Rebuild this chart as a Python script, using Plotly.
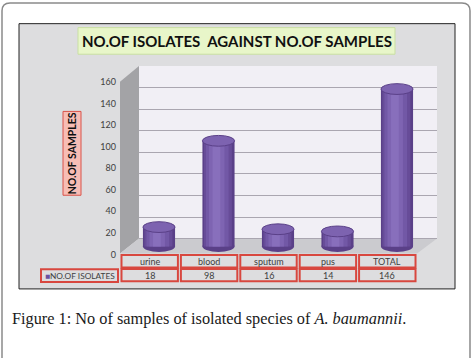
import plotly.graph_objects as go

# ---------------- data ----------------
categories = ["urine", "blood", "sputum", "pus", "TOTAL"]
isolates = [18, 98, 16, 14, 146]
series_name = "NO.OF ISOLATES"
y_ticks = [0, 20, 40, 60, 80, 100, 120, 140, 160]
title_text = "NO.OF ISOLATES \u00a0AGAINST NO.OF SAMPLES"
y_title = "NO.OF SAMPLES"
caption = "Figure 1: No of samples of isolated species of <i>A. baumannii</i>."

# ---------------- helpers ----------------
W, H = 472, 358
def fx(p): return p / W
def fy(p): return 1 - p / H

fig = go.Figure()

# dummy trace so the main subplot (x, y) exists
fig.add_trace(go.Scatter(x=[0.5], y=[50], xaxis="x", yaxis="y", mode="markers",
                         marker=dict(opacity=0), showlegend=False, hoverinfo="skip"))

# cylinder shading: overlaid bars of decreasing width
layers = [(0.54, "#5a4088", 0.0), (0.47, "#674c98", -0.01), (0.38, "#7258a6", -0.02),
          (0.26, "#7e64b2", -0.03), (0.13, "#886fbc", -0.035)]
for w, c, sh in layers:
    fig.add_trace(go.Bar(
        x=categories, y=isolates, xaxis="x2", yaxis="y2",
        width=w, offset=-w / 2 + sh, marker=dict(color=c, line=dict(width=0)),
        showlegend=False, hoverinfo="skip", name=series_name))

# dummy traces so helper axes exist
fig.add_trace(go.Scatter(x=[0.5], y=[50], xaxis="x", yaxis="y3", mode="markers",
                         marker=dict(opacity=0), showlegend=False, hoverinfo="skip"))
fig.add_trace(go.Scatter(x=[0], y=[0.5], xaxis="x3", yaxis="y4", mode="markers",
                         marker=dict(opacity=0), showlegend=False, hoverinfo="skip"))

shapes = []
def pt(x, y): return f"{fx(x):.5f},{fy(y):.5f}"
# outer rounded frame
shapes.append(dict(type="path", xref="paper", yref="paper", layer="below",
                   path=f"M {pt(10,3)} L {pt(462,3)} Q {pt(470,3)} {pt(470,11)} L {pt(470,380)} "
                        f"L {pt(2,380)} L {pt(2,11)} Q {pt(2,3)} {pt(10,3)} Z",
                   line=dict(color="#8a8a8a", width=1.5), fillcolor="white"))
# chart area
shapes.append(dict(type="rect", xref="paper", yref="paper", layer="below",
                   x0=fx(19), x1=fx(455), y0=fy(293), y1=fy(24),
                   fillcolor="#dddddf", line=dict(color="#222222", width=1)))
# back wall
shapes.append(dict(type="rect", xref="paper", yref="paper", layer="below",
                   x0=fx(139), x1=fx(437), y0=fy(242), y1=fy(67),
                   fillcolor="#f1eff5", line=dict(width=0)))
# left wall
shapes.append(dict(type="path", xref="paper", yref="paper", layer="below",
                   path=f"M {pt(120,83)} L {pt(139,67)} L {pt(139,242)} L {pt(120,257)} Z",
                   fillcolor="#a3a3a6", line=dict(width=0)))
# floor
shapes.append(dict(type="path", xref="paper", yref="paper", layer="below",
                   path=f"M {pt(120,257)} L {pt(139,242)} L {pt(437,242)} L {pt(417,257)} Z",
                   fillcolor="#cbcbcf", line=dict(width=0)))
# title box
shapes.append(dict(type="rect", xref="paper", yref="paper", layer="below",
                   x0=fx(78), x1=fx(395), y0=fy(55), y1=fy(28),
                   fillcolor="#e8f6c9", line=dict(color="#c9dfa3", width=1)))
# y title box
shapes.append(dict(type="rect", xref="paper", yref="paper", layer="below",
                   x0=fx(63), x1=fx(81), y0=fy(198), y1=fy(113),
                   fillcolor="#f7bdb5", line=dict(color="#d9534a", width=1)))

# cylinder ends
for i, v in enumerate(isolates):
    shapes.append(dict(type="circle", xref="x2", yref="y2", layer="below",
                       x0=i - 0.27, x1=i + 0.27, y0=-5, y1=5,
                       fillcolor="#5a4088", line=dict(width=0)))
    shapes.append(dict(type="circle", xref="x2", yref="y2", layer="above",
                       x0=i - 0.27, x1=i + 0.27, y0=v - 5, y1=v + 5,
                       fillcolor="#7d63b0", line=dict(color="#5a4088", width=1)))

# data table cells
red = "#d8473f"
for r in range(2):
    for i in range(len(categories)):
        shapes.append(dict(type="rect", xref="x3", yref="y4", layer="above",
                           x0=i - 0.475, x1=i + 0.475, y0=r + 0.05, y1=r + 0.95,
                           line=dict(color=red, width=2), fillcolor="rgba(0,0,0,0)"))
shapes.append(dict(type="rect", xref="paper", yref="paper", layer="above",
                   x0=fx(41), x1=fx(118), y0=fy(286), y1=fy(273),
                   line=dict(color=red, width=2), fillcolor="rgba(0,0,0,0)"))

annotations = []
annotations.append(dict(xref="paper", yref="paper", x=fx(236.5), y=fy(41.5),
                        xanchor="center", yanchor="middle",
                        text=f"<b>{title_text}</b>", showarrow=False,
                        font=dict(family="Lato", size=15, color="#111111")))
annotations.append(dict(xref="paper", yref="paper", x=fx(72), y=fy(155.5),
                        xanchor="center", yanchor="middle",
                        text=f"<b>{y_title}</b>", textangle=-90, showarrow=False,
                        font=dict(family="Lato", size=10.5, color="#111111")))
for i, (c, v) in enumerate(zip(categories, isolates)):
    annotations.append(dict(xref="x3", yref="y4", x=i, y=0.5, text=c, showarrow=False,
                            xanchor="center", yanchor="middle",
                            font=dict(family="Lato", size=9, color="#404040")))
    annotations.append(dict(xref="x3", yref="y4", x=i, y=1.5, text=str(v), showarrow=False,
                            xanchor="center", yanchor="middle",
                            font=dict(family="Lato", size=9, color="#404040")))
annotations.append(dict(xref="paper", yref="paper", x=fx(43), y=fy(279.5),
                        xanchor="left", yanchor="middle",
                        text=f"<span style='color:#6a50a0'>\u25a0</span>{series_name}",
                        showarrow=False, font=dict(family="Lato", size=8.3, color="#404040")))
annotations.append(dict(xref="paper", yref="paper", x=fx(10), y=fy(323),
                        xanchor="left", yanchor="middle",
                        text=caption, showarrow=False,
                        font=dict(family="Liberation Serif", size=16.3, color="#1a1a1a")))

ydom = [fy(258), fy(67)]
fig.update_layout(
    width=W, height=H, margin=dict(l=0, r=0, t=0, b=0),
    paper_bgcolor="white", plot_bgcolor="rgba(0,0,0,0)",
    barmode="overlay", showlegend=False,
    shapes=shapes, annotations=annotations,
    xaxis=dict(domain=[fx(139), fx(437)], range=[0, 1], visible=False, fixedrange=True, anchor="y"),
    yaxis=dict(domain=ydom, range=[-14.63, 160], tick0=0, dtick=20,
               showgrid=True, gridcolor="#aaa6b0", gridwidth=1, zeroline=False,
               showticklabels=False, ticks="", showline=False, anchor="x"),
    xaxis2=dict(overlaying="x", anchor="y", type="category", range=[-0.3361, 4.6723],
                domain=[fx(139), fx(437)],
                visible=False, categoryarray=categories, categoryorder="array"),
    yaxis2=dict(overlaying="y", anchor="x", domain=ydom, range=[-7.314, 167.31], visible=False),
    yaxis3=dict(overlaying="y", anchor="free", position=fx(116), side="left", domain=ydom,
                range=[0, 174.63], tickvals=y_ticks, ticktext=[str(t) for t in y_ticks],
                showgrid=False, zeroline=False, showline=False, ticks="",
                tickfont=dict(family="Lato", size=9, color="#404040")),
    xaxis3=dict(domain=[fx(120), fx(417)], range=[-0.5, 4.5], anchor="y4", visible=False),
    yaxis4=dict(domain=[fy(287), fy(257)], range=[2.07, -0.07], anchor="x3", visible=False),
)

fig.write_html("out.html", config={"displayModeBar": False},
               post_script="document.body.style.margin='0';")
